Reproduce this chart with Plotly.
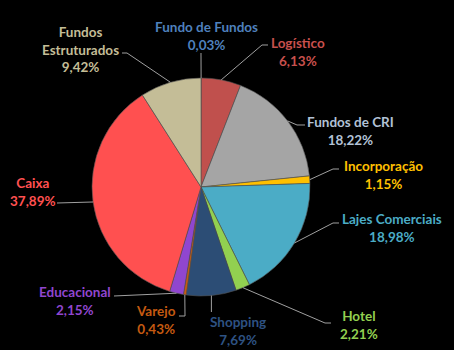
import math
import plotly.graph_objects as go

# ---- data ----
categories = ["Fundo de Fundos", "Logístico", "Fundos de CRI", "Incorporação",
              "Lajes Comerciais", "Hotel", "Shopping", "Varejo", "Educacional",
              "Caixa", "Fundos Estruturados"]
values = [0.03, 6.13, 18.22, 1.15, 18.98, 2.21, 7.69, 0.43, 2.15, 37.89, 9.42]
pct_labels = ["0,03%", "6,13%", "18,22%", "1,15%", "18,98%", "2,21%",
              "7,69%", "0,43%", "2,15%", "37,89%", "9,42%"]
label_text = ["Fundo de Fundos", "Logístico", "Fundos de CRI", "Incorporação",
              "Lajes Comerciais", "Hotel", "Shopping", "Varejo", "Educacional",
              "Caixa", "Fundos<br>Estruturados"]

# ---- style ----
W, H = 454, 350
CX, CY, R = 201, 187, 109
slice_colors = ["#4F81BD", "#C0504D", "#A5A5A5", "#FFC000", "#4BACC6", "#92D050",
                "#2C4D75", "#C55A11", "#9046CF", "#FF5050", "#C4BD97"]
text_colors = ["#4F81BD", "#C8504D", "#B2C2D6", "#FFC000", "#4BACC6", "#92D050",
               "#2E5283", "#C55A11", "#9046CF", "#FF5050", "#C4BD97"]
# label centre (pixels) and leader-line start/elbow (pixels)
label_pos = [(206, 36), (298, 52), (350, 131), (383, 175), (392, 228), (359, 325),
             (238, 331), (156, 320), (75, 301), (33, 192), (80, 50)]
leader_start = [(201, 53), (268, 45), (305, 125), (339, 169), (339, 223), (331, 323),
                (None, 312), (179, 316), (114, 296), (57, 203), (122, 53)]
leader_elbow = [None, (262, 45), (297, 125), (333, 169), (333, 223), (325, 323),
                None, (185, 316), None, None, (127, 53)]

def px(x):
    return x / W

def py(y):
    return 1 - y / H

fig = go.Figure(go.Pie(
    labels=categories, values=values, sort=False, direction="clockwise",
    rotation=0, textinfo="none", hoverinfo="label+percent",
    marker=dict(colors=slice_colors, line=dict(color="#505050", width=0.6)),
    domain=dict(x=[px(CX - R), px(CX + R)], y=[py(CY + R), py(CY - R)]),
    showlegend=False,
))

total = sum(values)
cum = 0.0
shapes, annotations = [], []
for i, v in enumerate(values):
    mid = (cum + v / 2) / total * 2 * math.pi
    cum += v
    ex, ey = CX + R * math.sin(mid), CY - R * math.cos(mid)
    sx, sy = leader_start[i]
    if sx is None:
        sx = ex
    pts = [(sx, sy)]
    if leader_elbow[i] is not None:
        pts.append(leader_elbow[i])
    pts.append((ex, ey))
    path = "M " + " L ".join(f"{px(a):.5f},{py(b):.5f}" for a, b in pts)
    shapes.append(dict(type="path", path=path, xref="paper", yref="paper",
                       line=dict(color="#A0A0A0", width=1)))
    lx, ly = label_pos[i]
    annotations.append(dict(
        x=px(lx), y=py(ly), xref="paper", yref="paper", showarrow=False,
        text=f"<b>{label_text[i]}<br>{pct_labels[i]}</b>",
        font=dict(family="Lato", size=13.5, color=text_colors[i]),
        xanchor="center", yanchor="middle", align="center",
    ))

fig.update_layout(
    width=W, height=H, margin=dict(l=0, r=0, t=0, b=0),
    paper_bgcolor="#000000", plot_bgcolor="#000000",
    shapes=shapes, annotations=annotations,
)
fig.write_html("out.html")
